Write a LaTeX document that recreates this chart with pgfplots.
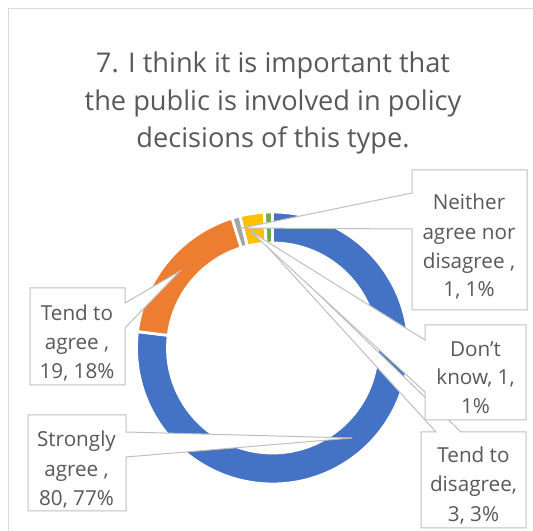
\documentclass[border=0pt]{standalone}
\usepackage{fontspec}
\setmainfont{Open Sans}
\usepackage{pgfplots}
\usepackage{pgfplotstable}
\pgfplotsset{compat=1.18}
\definecolor{c0}{HTML}{4472C4}
\definecolor{c1}{HTML}{ED7D31}
\definecolor{c2}{HTML}{A5A5A5}
\definecolor{c3}{HTML}{FFC000}
\definecolor{c4}{HTML}{5B9BD5}
\definecolor{c5}{HTML}{70AD47}
\definecolor{txt}{HTML}{595959}
\definecolor{lead}{HTML}{BFBFBF}
\definecolor{frm}{HTML}{D9D9D9}
\tikzset{
  lab/.style={anchor=base, text=txt, inner sep=0pt, font=\fontsize{15.5pt}{18pt}\selectfont},
  ttl/.style={anchor=base, text=txt, inner sep=0pt, font=\fontsize{20.4pt}{24pt}\selectfont},
  callout/.style={fill=white, draw=lead, line width=0.75pt}
}

% clockwise from 12 o'clock
\pgfplotstableread{
idx value
0 80
1 19
2 1
3 3
4 0
5 1
}\slices

\begin{document}
\begin{tikzpicture}
\def\total{0}
\pgfplotsforeachungrouped \i in {0,...,5}{%
  \pgfplotstablegetelem{\i}{value}\of\slices
  \pgfmathsetmacro\total{\total+\pgfplotsretval}%
}
\def\cum{0}
\pgfplotsforeachungrouped \i in {0,...,5}{%
  \pgfplotstablegetelem{\i}{value}\of\slices
  \pgfmathsetmacro\sa{90-(\cum/\total)*360}%
  \pgfmathsetmacro\cum{\cum+\pgfplotsretval}%
  \pgfmathsetmacro\ea{90-(\cum/\total)*360}%
  \expandafter\xdef\csname sa\i\endcsname{\sa}%
  \expandafter\xdef\csname ea\i\endcsname{\ea}%
}
\begin{axis}[x=0.75pt, y=0.75pt, xmin=0, xmax=533, ymin=0, ymax=531,
  y dir=reverse, hide axis, clip=false]
% frame
\draw[frm, line width=0.75pt] (8,540) -- (8,9) -- (540,9);
% donut
\pgfplotsinvokeforeach{0,...,5}{%
  \fill[c#1, draw=white, line width=2.1pt]
    (axis cs:{272.5+136*cos(\csname sa#1\endcsname)},{348-136*sin(\csname sa#1\endcsname)})
    arc[start angle=\csname sa#1\endcsname, end angle=\csname ea#1\endcsname, radius=102pt]
    -- (axis cs:{272.5+105*cos(\csname ea#1\endcsname)},{348-105*sin(\csname ea#1\endcsname)})
    arc[start angle=\csname ea#1\endcsname, end angle=\csname sa#1\endcsname, radius=78.75pt]
    -- cycle;
}
% title
\node[ttl] at (273,73) {7. I think it is important that};
\node[ttl] at (273,110.5) {the public is involved in policy};
\node[ttl] at (273,148) {decisions of this type.};
% callouts
\filldraw[callout]
  (28,415) -- (126,415) -- (126,432) -- (352,438) -- (126,457) -- (126,511) -- (28,511) -- cycle;
\node[lab] at (76.5,446.7) {Strongly};
\node[lab] at (76.5,476.7) {agree ,};
\node[lab] at (76.5,505.5) {80, 77\%};
\filldraw[callout]
  (30,288) -- (125,288) -- (125,303) -- (180,271) -- (125,328) -- (125,385) -- (30,385) -- cycle;
\node[lab] at (77,320.7) {Tend to};
\node[lab] at (77,350) {agree ,};
\node[lab] at (77,379) {19, 18\%};
\filldraw[callout]
  (421,432) -- (436,432) -- (252,230) -- (461,432) -- (526,432) -- (526,528) -- (421,528) -- cycle;
\node[lab] at (473.5,463) {Tend to};
\node[lab] at (473.5,491.7) {disagree,};
\node[lab] at (473.5,521.5) {3, 3\%};
\filldraw[callout]
  (425,325) -- (526,325) -- (526,420) -- (425,420) -- (425,392) -- (250,231) -- (425,340) -- cycle;
\node[lab] at (475.5,356.7) {Don’t};
\node[lab] at (475.5,385) {know, 1,};
\node[lab] at (475.5,414) {1\%};
\filldraw[callout]
  (412,170) -- (527,170) -- (527,310) -- (412,310) -- (412,229) -- (242,228) -- (412,193) -- cycle;
\node[lab] at (469,210) {Neither};
\node[lab] at (469,240) {agree nor};
\node[lab] at (469,269) {disagree ,};
\node[lab] at (469,297) {1, 1\%};
\end{axis}
\pgfresetboundingbox
\path (current axis.south west) rectangle (current axis.north east);
\end{tikzpicture}
\end{document}
